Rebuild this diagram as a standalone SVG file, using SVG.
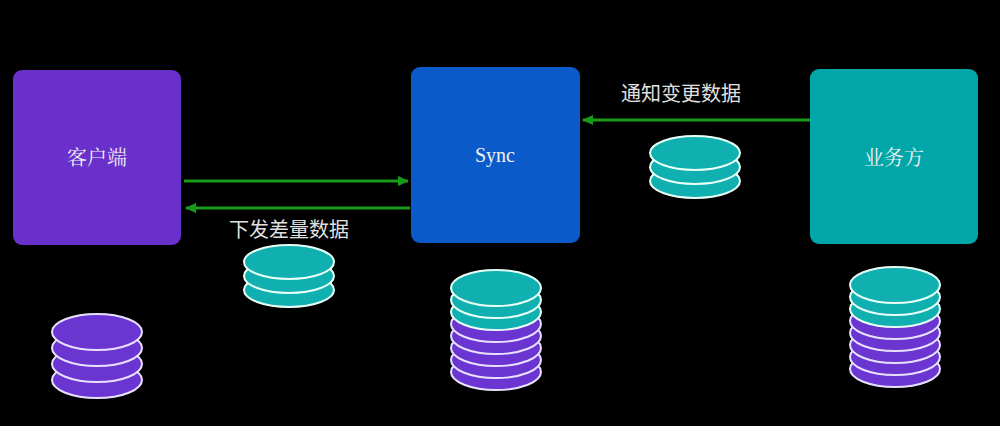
<svg xmlns="http://www.w3.org/2000/svg" width="1000" height="426" viewBox="0 0 1000 426">
<style>
.t{font-family:"Liberation Serif","Noto Serif CJK SC","Noto Sans CJK SC",serif;fill:#f0f0f0;font-size:20px;text-anchor:middle}
.l{font-family:"Noto Sans CJK SC",sans-serif;fill:#e0e0e0;font-size:20px;text-anchor:middle}
.c{stroke:#1a9a1a;stroke-width:3;fill:none;marker-end:url(#a)}
.p{fill:#6a35d0;stroke:#e8e0ff;stroke-width:2}
.g{fill:#10b0b0;stroke:#e8fff8;stroke-width:2}
</style>
<defs><marker id="a" markerWidth="11" markerHeight="10" refX="10" refY="5" orient="auto" markerUnits="userSpaceOnUse"><path d="M0,0L11,5L0,10z" fill="#1a9a1a"/></marker></defs>
<rect width="1000" height="426" fill="#000"/>
<g id="client"><rect x="13" y="70" width="168" height="175" rx="9" fill="#6a30cc"/><text class="t" x="97" y="165">客户端</text></g>
<g id="sync"><rect x="411" y="67" width="169" height="176" rx="9" fill="#0a5bc9"/><text class="t" x="495" y="162">Sync</text></g>
<g id="biz"><rect x="810" y="69" width="168" height="175" rx="9" fill="#00a6a8"/><text class="t" x="894" y="165">业务方</text></g>
<g id="connectors">
<line class="c" x1="184" y1="181" x2="408" y2="181"/>
<line class="c" x1="410" y1="208" x2="186" y2="208"/>
<line class="c" x1="810" y1="120" x2="583" y2="120"/>
</g>
<text class="l" x="289" y="237">下发差量数据</text>
<text class="l" x="681" y="101">通知变更数据</text>
<g id="client-db">
<ellipse class="p" cx="97" cy="380" rx="45" ry="18"/><ellipse class="p" cx="97" cy="364" rx="45" ry="18"/><ellipse class="p" cx="97" cy="348" rx="45" ry="18"/><ellipse class="p" cx="97" cy="332" rx="45" ry="18"/>
</g>
<g id="mid-db">
<ellipse class="g" cx="289" cy="290" rx="45" ry="17"/><ellipse class="g" cx="289" cy="276" rx="45" ry="17"/><ellipse class="g" cx="289" cy="262" rx="45" ry="17"/>
</g>
<g id="right-db">
<ellipse class="g" cx="695" cy="181" rx="45" ry="17"/><ellipse class="g" cx="695" cy="167" rx="45" ry="17"/><ellipse class="g" cx="695" cy="153" rx="45" ry="17"/>
</g>
<g id="sync-db">
<ellipse class="p" cx="496" cy="372" rx="45" ry="18"/><ellipse class="p" cx="496" cy="360" rx="45" ry="18"/><ellipse class="p" cx="496" cy="348" rx="45" ry="18"/><ellipse class="p" cx="496" cy="336" rx="45" ry="18"/><ellipse class="p" cx="496" cy="324" rx="45" ry="18"/>
<ellipse class="g" cx="496" cy="312" rx="45" ry="18"/><ellipse class="g" cx="496" cy="300" rx="45" ry="18"/><ellipse class="g" cx="496" cy="288" rx="45" ry="18"/>
</g>
<g id="biz-db">
<ellipse class="p" cx="895" cy="369" rx="45" ry="18"/><ellipse class="p" cx="895" cy="357" rx="45" ry="18"/><ellipse class="p" cx="895" cy="345" rx="45" ry="18"/><ellipse class="p" cx="895" cy="333" rx="45" ry="18"/><ellipse class="p" cx="895" cy="321" rx="45" ry="18"/>
<ellipse class="g" cx="895" cy="309" rx="45" ry="18"/><ellipse class="g" cx="895" cy="297" rx="45" ry="18"/><ellipse class="g" cx="895" cy="285" rx="45" ry="18"/>
</g>
</svg>
